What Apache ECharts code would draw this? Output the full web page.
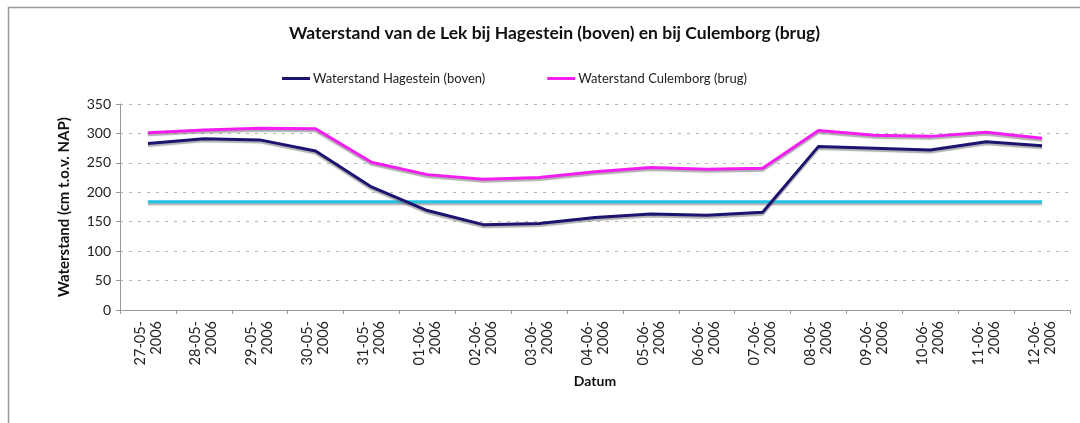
<!DOCTYPE html>
<html>
<head>
<meta charset="utf-8">
<script src="https://cdn.jsdelivr.net/npm/echarts@6/dist/echarts.min.js"></script>
<style>
  html, body { margin: 0; padding: 0; background: #fff; }
  #chart { width: 1080px; height: 423px; }
</style>
</head>
<body>
<div id="chart"></div>
<script>
const dates = [
  '27-05-\n2006', '28-05-\n2006', '29-05-\n2006', '30-05-\n2006', '31-05-\n2006',
  '01-06-\n2006', '02-06-\n2006', '03-06-\n2006', '04-06-\n2006', '05-06-\n2006',
  '06-06-\n2006', '07-06-\n2006', '08-06-\n2006', '09-06-\n2006', '10-06-\n2006',
  '11-06-\n2006', '12-06-\n2006'
];
const hagestein = [283, 291, 289, 270, 209, 169, 145, 147, 157, 163, 161, 166, 278, 275, 272, 286, 279];
const culemborg = [301, 306, 309, 308, 251, 230, 222, 225, 235, 242, 239, 241, 305, 297, 295, 302, 292];
const reference = [184, 184, 184, 184, 184, 184, 184, 184, 184, 184, 184, 184, 184, 184, 184, 184, 184];

const font = 'Lato, "Open Sans", sans-serif';
const chart = echarts.init(document.getElementById('chart'));

const shadow = {
  shadowColor: 'rgba(110,110,110,0.55)',
  shadowBlur: 1,
  shadowOffsetY: 2
};

chart.setOption({
  animation: false,
  backgroundColor: '#fff',
  graphic: [{
    type: 'rect',
    shape: { x: 8.5, y: 7.5, width: 1200, height: 600 },
    style: { fill: 'none', stroke: '#999', lineWidth: 1.5 },
    silent: true
  }],
  title: {
    text: 'Waterstand van de Lek bij Hagestein (boven) en bij Culemborg (brug)',
    left: 284,
    top: 19,
    textStyle: { fontFamily: font, fontSize: 17.5, fontWeight: 'bold', color: '#111' }
  },
  legend: {
    top: 67,
    left: 277,
    itemGap: 62,
    itemWidth: 28,
    itemHeight: 3,
    icon: 'rect',
    textStyle: { fontFamily: font, fontSize: 13, color: '#222', padding: [0, 0, 0, -2] },
    data: ['Waterstand Hagestein (boven)', 'Waterstand Culemborg (brug)']
  },
  grid: { left: 120, right: 10, top: 104, bottom: 113 },
  xAxis: {
    type: 'category',
    data: dates,
    name: 'Datum',
    nameLocation: 'middle',
    nameGap: 64,
    nameTextStyle: { fontFamily: font, fontSize: 14, fontWeight: 'bold', color: '#111' },
    axisLine: { lineStyle: { color: '#999' } },
    axisTick: { show: true, length: 4, lineStyle: { color: '#999' } },
    axisLabel: {
      rotate: 90,
      interval: 0,
      margin: 11,
      fontFamily: font,
      fontSize: 14.5,
      lineHeight: 16,
      color: '#222'
    }
  },
  yAxis: {
    type: 'value',
    min: 0,
    max: 350,
    interval: 50,
    name: 'Waterstand (cm t.o.v. NAP)',
    nameLocation: 'middle',
    nameGap: 48,
    nameTextStyle: { fontFamily: font, fontSize: 15, fontWeight: 'bold', color: '#111' },
    axisLine: { show: true, lineStyle: { color: '#999' } },
    axisTick: { show: true, length: 4, lineStyle: { color: '#999' } },
    axisLabel: { fontFamily: font, fontSize: 14, color: '#222', margin: 9 },
    splitLine: { lineStyle: { color: '#b5b5b5', type: [3, 6], width: 1 } }
  },
  series: [
    {
      name: 'Waterstand Hagestein (boven)',
      type: 'line',
      data: hagestein,
      symbol: 'none',
      color: '#1c1470',
      lineStyle: Object.assign({ width: 3, color: '#1c1470' }, shadow),
      z: 3
    },
    {
      name: 'Waterstand Culemborg (brug)',
      type: 'line',
      data: culemborg,
      symbol: 'none',
      color: '#f21df0',
      lineStyle: Object.assign({ width: 3, color: '#f21df0' }, shadow),
      z: 3
    },
    {
      name: 'Referentie',
      type: 'line',
      data: reference,
      symbol: 'none',
      color: '#22c4e6',
      lineStyle: Object.assign({ width: 3, color: '#22c4e6' }, shadow),
      z: 2
    }
  ]
});
</script>
</body>
</html>
